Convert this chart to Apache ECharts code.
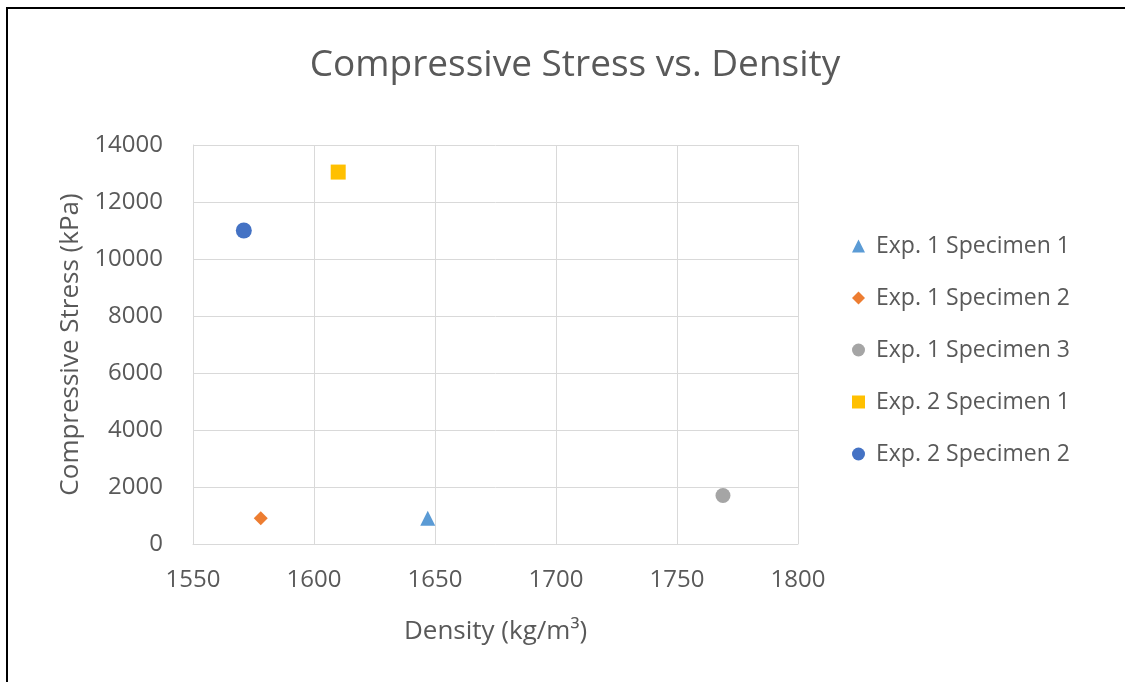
<!DOCTYPE html>
<html>
<head>
<meta charset="utf-8">
<script src="https://cdn.jsdelivr.net/npm/echarts@6/dist/echarts.min.js"></script>
<style>
  body { margin: 0; background: #fff; }
  #main { position: absolute; left: 0; top: 0; width: 1125px; height: 682px; }
  #frame { position: absolute; left: 6px; top: 7px; right: 0; bottom: 0;
           border-left: 2px solid #000; border-top: 2px solid #000; pointer-events: none; }
</style>
</head>
<body>
<div id="main"></div>
<div id="frame"></div>
<script>
// series names and their single (density, stress) points
var seriesNames = ["Exp. 1 Specimen 1", "Exp. 1 Specimen 2", "Exp. 1 Specimen 3", "Exp. 2 Specimen 1", "Exp. 2 Specimen 2"];
var density = [1647, 1578, 1769, 1610, 1571];
var stress = [900, 900, 1700, 13050, 11000];
var symbols = ["triangle", "diamond", "circle", "rect", "circle"];
var symbolSizes = [15, 14, 15, 15, 16];
var colors = ["#5B9BD5", "#ED7D31", "#A5A5A5", "#FFC000", "#4472C4"];

var font = "'Open Sans', sans-serif";
var textColor = "#595959";

var myChart = echarts.init(document.getElementById("main"));

var series = seriesNames.map(function (name, i) {
  return {
    name: name,
    type: "scatter",
    symbol: symbols[i],
    symbolSize: symbolSizes[i],
    itemStyle: { color: colors[i], opacity: 1 },
    data: [[density[i], stress[i]]]
  };
});

myChart.setOption({
  animation: false,
  title: {
    text: "Compressive Stress vs. Density",
    left: 570,
    textAlign: "center",
    top: 42,
    textStyle: { fontFamily: font, fontSize: 37, fontWeight: "normal", color: textColor }
  },
  legend: {
    orient: "vertical",
    left: 847,
    top: 229,
    itemWidth: 13,
    itemHeight: 13,
    itemGap: 28,
    data: seriesNames.map(function (n, i) { return { name: n, icon: symbols[i] }; }),
    textStyle: { fontFamily: font, fontSize: 23, color: textColor, lineHeight: 24, padding: [0, 0, 0, 6] }
  },
  grid: { left: 193, right: 327, top: 145, bottom: 138 },
  xAxis: {
    type: "value",
    min: 1550,
    max: 1800,
    interval: 50,
    name: "Density (kg/m³)",
    nameLocation: "middle",
    nameGap: 75,
    nameTextStyle: { fontFamily: font, fontSize: 26, color: textColor },
    axisLine: { show: true, lineStyle: { color: "#d9d9d9", width: 1 } },
    axisTick: { show: false },
    axisLabel: { fontFamily: font, fontSize: 24, color: textColor, margin: 24, formatter: function (v) { return String(v); } },
    splitLine: { show: true, lineStyle: { color: "#d9d9d9", width: 1 } }
  },
  yAxis: {
    type: "value",
    min: 0,
    max: 14000,
    interval: 2000,
    name: "Compressive Stress (kPa)",
    nameLocation: "middle",
    nameGap: 108,
    nameTextStyle: { fontFamily: font, fontSize: 26, color: textColor },
    axisLine: { show: true, lineStyle: { color: "#d9d9d9", width: 1 } },
    axisTick: { show: false },
    axisLabel: { fontFamily: font, fontSize: 24, color: textColor, margin: 30, formatter: function (v) { return String(v); } },
    splitLine: { show: true, lineStyle: { color: "#d9d9d9", width: 1 } }
  },
  series: series
});

window.onresize = function () {
  myChart.resize();
};
</script>
</body>
</html>
